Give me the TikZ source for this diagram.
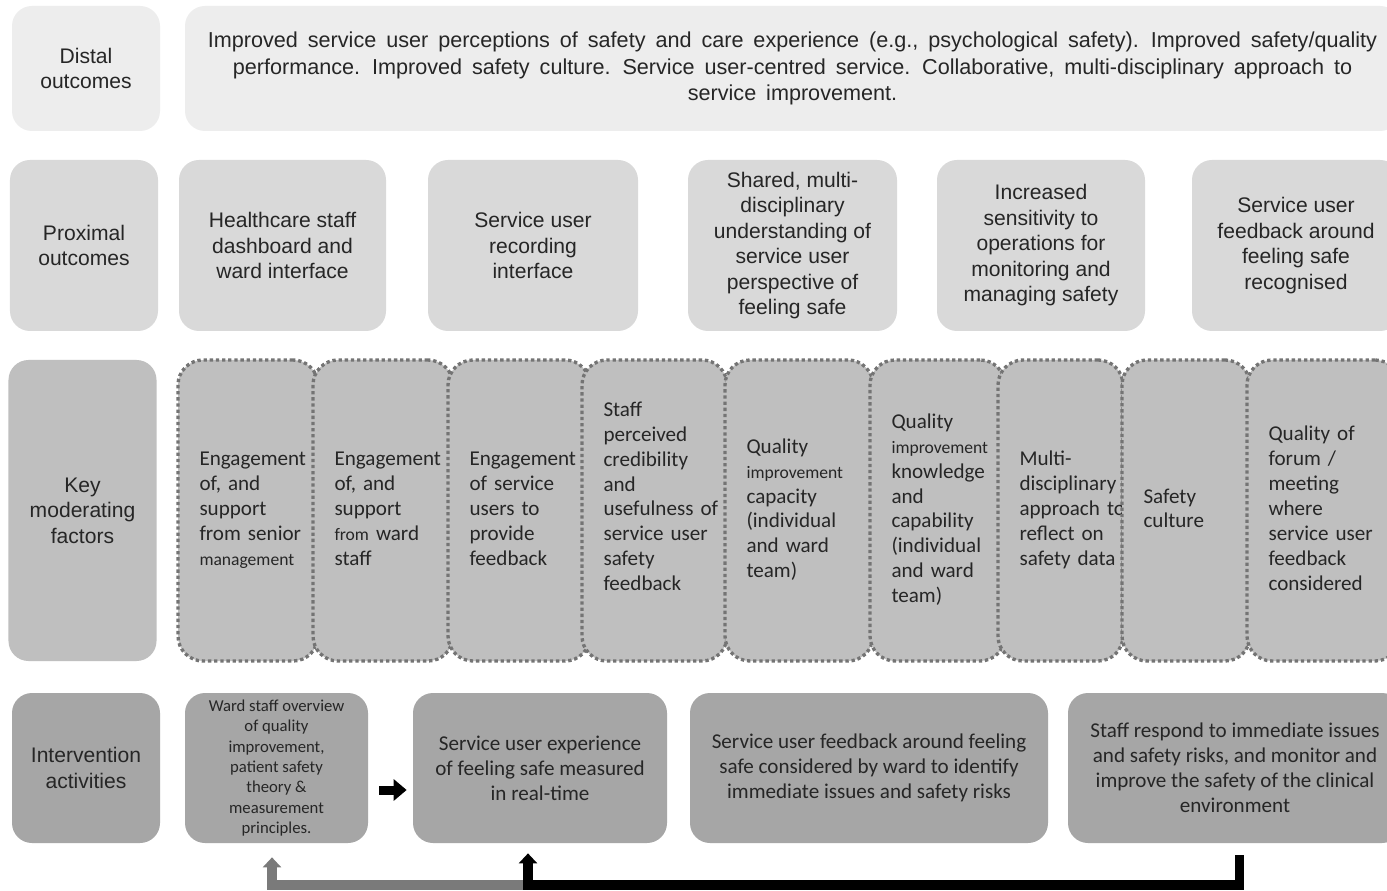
\documentclass[tikz,border=0pt]{standalone}
\usepackage{fontspec}
\setmainfont{Carlito}
\newfontfamily\arialfont{Liberation Sans}
\usetikzlibrary{arrows.meta}

\definecolor{ink}{HTML}{262626}
\definecolor{distalfill}{HTML}{EDEDED}
\definecolor{proxfill}{HTML}{D9D9D9}
\definecolor{modfill}{HTML}{BFBFBF}
\definecolor{actfill}{HTML}{A6A6A6}
\definecolor{dotline}{HTML}{747474}
\definecolor{hatch}{HTML}{7A7A7A}

% wide word gaps in the distal outcomes text
\newcommand{\distalfont}{\arialfont\fontsize{12.3}{15.3}\selectfont\spaceskip=0.46em\relax}
% a few words are set smaller inside the factor boxes
\newcommand{\smallword}[1]{{\fontsize{10}{14.2}\selectfont #1}}
% lines of a factor box, kept as typed (no rebreaking)
\newcommand{\factorlines}[1]{\begin{tabular}{@{}l@{}}#1\end{tabular}}

\begin{document}
\begin{tikzpicture}[
  rowlbl/.style={rounded corners=4mm, minimum width=2.96cm, align=center, text=ink, font=\arialfont\fontsize{12}{14.5}\selectfont},
  outc/.style={rounded corners=4mm, align=center, text=ink, font=\arialfont\fontsize{12}{14.5}\selectfont},
  moder/.style={draw=dotline, line width=1.9pt, dash pattern=on 1.9pt off 1.6pt, fill=modfill, rounded corners=5mm, minimum height=6.02cm, inner xsep=0.43cm, align=left, text=ink, font=\fontsize{12}{14.2}\selectfont},
  activ/.style={fill=actfill, rounded corners=4mm, minimum height=3cm, align=center, text=ink, font=\fontsize{12}{14.2}\selectfont},
  nextstep/.style={line width=0.18cm, -{Triangle[width=0.42cm,length=0.26cm]}},
  loopback/.style={line width=0.19cm, -{Triangle[width=0.36cm,length=0.2cm]}}]
\path[use as bounding box, fill=white] (0,0) rectangle (27.74,-17.82);
\clip (0,0) rectangle (27.74,-17.82);

% distal outcomes
\node[rowlbl, fill=distalfill, minimum height=2.5cm] (dlbl) at (1.72,-1.37) {Distal\\outcomes};
\node[outc, fill=distalfill, minimum width=24.3cm, minimum height=2.5cm, font=\distalfont] (dist) at (15.85,-1.37) {Improved service user perceptions of safety and care experience (e.g., psychological safety). Improved safety/quality\\performance. Improved safety culture. Service user-centred service. Collaborative, multi-disciplinary approach to\\service improvement.};

% proximal outcomes
\node[rowlbl, fill=proxfill, minimum height=3.42cm] (plbl) at (1.68,-4.91) {Proximal\\outcomes};
\node[outc, fill=proxfill, minimum width=4.14cm, minimum height=3.42cm] (p1) at (5.65,-4.91) {Healthcare staff\\dashboard and\\ward interface};
\node[outc, fill=proxfill, minimum width=4.2cm, minimum height=3.42cm] (p2) at (10.66,-4.91) {Service user\\recording\\interface};
\node[outc, fill=proxfill, minimum width=4.18cm, minimum height=3.42cm] (p3) at (15.85,-4.91) {Shared, multi-\\disciplinary\\understanding of\\service user\\perspective of\\feeling safe};
\node[outc, fill=proxfill, minimum width=4.16cm, minimum height=3.42cm] (p4) at (20.82,-4.91) {Increased\\sensitivity to\\operations for\\monitoring and\\managing safety};
\node[outc, fill=proxfill, minimum width=4.16cm, minimum height=3.42cm] (p5) at (25.92,-4.91) {Service user\\feedback around\\feeling safe\\recognised};

% key moderating factors
\node[rowlbl, fill=modfill, minimum height=6.02cm] (klbl) at (1.65,-10.21) {Key\\moderating\\factors};
\node[moder, text width=1.94cm] (m1) at (4.96,-10.21) {\factorlines{Engagement\\of, and\\support\\from senior\\\smallword{management}}};
\node[moder, text width=1.94cm] (m2) at (7.66,-10.21) {\factorlines{Engagement\\of, and\\support\\\smallword{from} ward\\staff}};
\node[moder, text width=1.98cm] (m3) at (10.38,-10.21) {\factorlines{Engagement\\of service\\users to\\provide\\feedback}};
\node[moder, text width=2.04cm] (m4) at (13.09,-10.21) {\raisebox{0.24cm}[\height][\depth]{\factorlines{Staff\\perceived\\credibility\\and\\usefulness of\\service user\\safety\\feedback}}};
\node[moder, text width=2.10cm] (m5) at (15.98,-10.21) {\factorlines{Quality\\\smallword{improvement}\\capacity\\(individual\\and ward\\team)}};
\node[moder, text width=1.84cm] (m6) at (18.75,-10.21) {\factorlines{Quality\\\smallword{improvement}\\knowledge\\and\\capability\\(individual\\and ward\\team)}};
\node[moder, text width=1.64cm] (m7) at (21.21,-10.21) {\factorlines{Multi-\\disciplinary\\approach to\\reflect on\\safety data}};
\node[moder, text width=1.70cm] (m8) at (23.72,-10.21) {\factorlines{Safety\\culture}};
\node[moder, text width=2.20cm] (m9) at (26.47,-10.21) {\factorlines{Quality of\\forum /\\meeting\\where\\service user\\feedback\\considered}};

% intervention activities
\node[rowlbl, fill=actfill, minimum height=3cm] (albl) at (1.72,-15.36) {Intervention\\activities};
\node[activ, minimum width=3.66cm, font=\fontsize{9.5}{11.6}\selectfont] (a1) at (5.53,-15.36) {Ward staff overview\\of quality\\improvement,\\patient safety\\theory \&\\measurement\\principles.};
\node[activ, minimum width=5.08cm] (a2) at (10.8,-15.36) {Service user experience\\of feeling safe measured\\in real-time};
\node[activ, minimum width=7.16cm] (a3) at (17.38,-15.36) {Service user feedback around feeling\\safe considered by ward to identify\\immediate issues and safety risks};
\node[activ, minimum width=6.68cm] (a4) at (24.7,-15.36) {Staff respond to immediate issues\\and safety risks, and monitor and\\improve the safety of the clinical\\environment};

% arrows between and under the activities
\draw[nextstep, shorten <=0.22cm, shorten >=0.12cm] ([yshift=-0.44cm]a1.east) -- ([yshift=-0.44cm]a2.west);
\coordinate (turn) at (10.56,-17.7);
\coordinate (back) at (5.44,-17.7);
\draw[loopback, hatch, shorten >=0.28cm] (turn) -- (back) -- (back |- a1.south);
\draw[loopback, black, shorten <=0.24cm, shorten >=0.2cm] ([xshift=0.09cm]a4.south) |- (turn) -- (turn |- a2.south);
\end{tikzpicture}
\end{document}
